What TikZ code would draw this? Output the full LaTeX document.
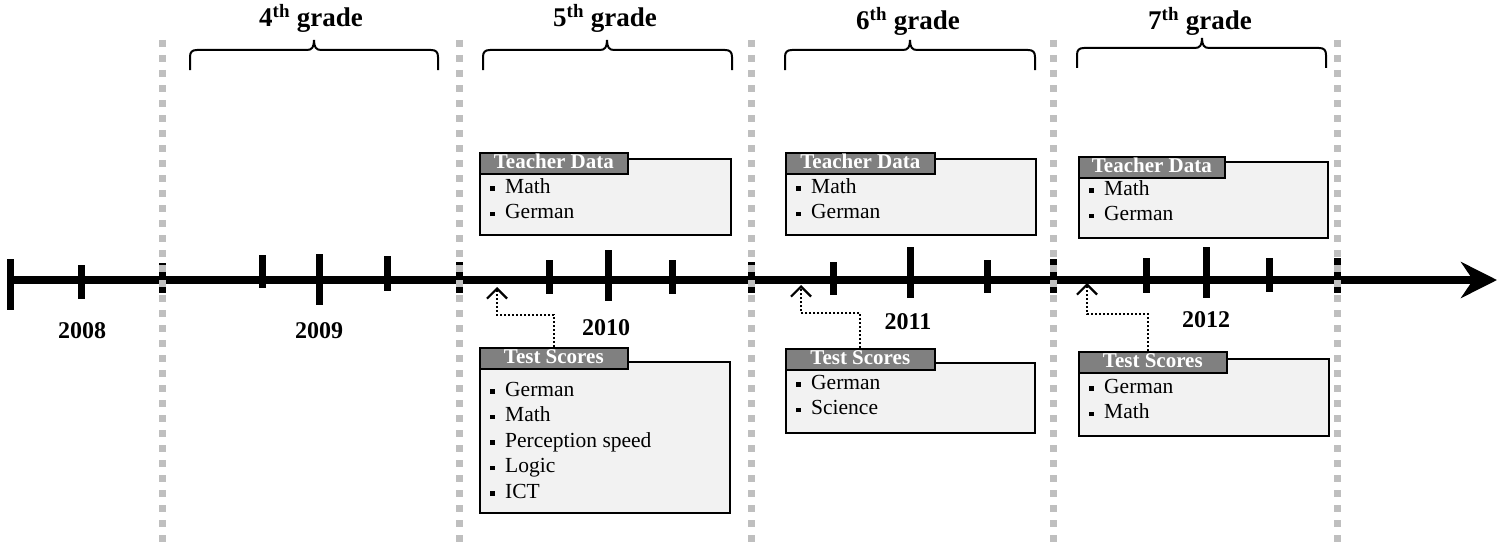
\documentclass[tikz,border=0pt]{standalone}
\usepackage{fontspec}
\setmainfont{Liberation Serif}
\usetikzlibrary{arrows.meta}
\definecolor{sepgray}{HTML}{BFBFBF}
\definecolor{tabgray}{HTML}{808080}
\definecolor{boxfill}{HTML}{F2F2F2}
\newcommand\sqb{\rule[2.5pt]{4.5pt}{4.5pt}\hspace{10.5pt}}
% #1 left x, #2 right x, #3 peak x, #4 y of horizontal part
\newcommand\gradebrace[4]{%
  \draw[brc] (#1,#4+20) -- (#1,#4+7) .. controls (#1,#4+2) and (#1+2,#4) .. (#1+7,#4)
    -- (#3-7,#4) .. controls (#3-2,#4) and (#3,#4-3) .. (#3,#4-10)
    .. controls (#3,#4-3) and (#3+2,#4) .. (#3+7,#4)
    -- (#2-7,#4) .. controls (#2-2,#4) and (#2,#4+2) .. (#2,#4+7) -- (#2,#4+20);}
\begin{document}
\begin{tikzpicture}[x=1pt,y=-1pt,
  sep/.style={draw=sepgray, line width=7pt, dash pattern=on 7pt off 8pt},
  tl/.style={line width=7.5pt},
  tk/.style={line width=7pt},
  box/.style={draw=black, fill=boxfill, line width=1.6pt, anchor=north west, inner sep=0pt},
  tab/.style={draw=black, fill=tabgray, line width=1.6pt, anchor=north west, inner sep=0pt,
    text=white, font=\fontsize{21}{23}\selectfont\bfseries, minimum height=21pt,
    text height=13.5pt, text depth=3.5pt},
  items/.style={anchor=base west, inner sep=0pt, font=\fontsize{21.5}{25.5}\selectfont},
  year/.style={anchor=base, inner sep=0pt, font=\fontsize{24}{26}\selectfont\bfseries},
  grade/.style={anchor=base, inner sep=0pt, font=\fontsize{27}{29}\selectfont\bfseries},
  brc/.style={line width=2pt},
  conn/.style={line width=2pt, dash pattern=on 2pt off 2pt,
    -{Straight Barb[length=10pt,width=20pt,line width=2.2pt]}}
]
\useasboundingbox (0,0) rectangle (1501,551);

% timeline
\draw[tl, -{Stealth[length=36pt,width=36pt,inset=12pt]}] (10,280) -- (1497,280);
\draw[tk] (10,259) -- (10,310);
\foreach \x/\a/\b in {81/265/299, 262/255/288, 319/254/305, 387/256/291,
                      549/260/294, 608/250/301, 672/260/294,
                      833/262/295, 910/247/298, 987/260/293,
                      1146/258/293, 1206/247/298, 1269/258/292,
                      162/263/293, 459/262/293, 751/262/293, 1053/259/293, 1337/258/293}
  \draw[tk] (\x,\a) -- (\x,\b);

% separators
\foreach \x in {162,459,751,1053,1337}
  \draw[sep] (\x,40) -- (\x,549);

% year labels
\node[year] (y2008) at (82,338) {2008};
\node[year] (y2009) at (319,338) {2009};
\node[year] (y2010) at (606,335) {2010};
\node[year] (y2011) at (908,329) {2011};
\node[year] (y2012) at (1206,327) {2012};

% grade labels and braces
\node[grade] (g4) at (311,27) {4\textsuperscript{th} grade};
\node[grade] (g5) at (605,27) {5\textsuperscript{th} grade};
\node[grade] (g6) at (908,30) {6\textsuperscript{th} grade};
\node[grade] (g7) at (1200,30) {7\textsuperscript{th} grade};
\gradebrace{190}{438}{314}{50}
\gradebrace{483}{732}{607}{50}
\gradebrace{785}{1035}{910}{50}
\gradebrace{1077}{1326}{1202}{48}

% 5th grade boxes
\node[box, minimum width=251pt, minimum height=76pt] (td1) at (479,158) {};
\node[tab, minimum width=148pt] (td1h) at (479,152) {Teacher Data};
\node[items] (td1i) at (490,193) {\begin{tabular}[t]{@{}l@{}}\sqb Math\\ \sqb German\end{tabular}};
\node[box, minimum width=250pt, minimum height=151pt] (ts1) at (479,361) {};
\node[tab, minimum width=148pt] (ts1h) at (479,347) {Test Scores};
\node[items] (ts1i) at (490,396) {\begin{tabular}[t]{@{}l@{}}\sqb German\\ \sqb Math\\ \sqb Perception speed\\ \sqb Logic\\ \sqb ICT\end{tabular}};
\coordinate (a1) at (497,287);
\draw[conn] (ts1h.north) -- ++(0,-32) -| (a1);

% 6th grade boxes
\node[box, minimum width=250pt, minimum height=76pt] (td2) at (785,158) {};
\node[tab, minimum width=149pt] (td2h) at (785,152) {Teacher Data};
\node[items] (td2i) at (796,193) {\begin{tabular}[t]{@{}l@{}}\sqb Math\\ \sqb German\end{tabular}};
\node[box, minimum width=249pt, minimum height=70pt] (ts2) at (785,362) {};
\node[tab, minimum width=149pt] (ts2h) at (785,348) {Test Scores};
\node[items] (ts2i) at (796,389) {\begin{tabular}[t]{@{}l@{}}\sqb German\\ \sqb Science\end{tabular}};
\coordinate (a2) at (801,285);
\draw[conn] (ts2h.north) -- ++(0,-35) -| (a2);

% 7th grade boxes
\node[box, minimum width=249pt, minimum height=76pt] (td3) at (1078,161) {};
\node[tab, minimum width=146pt] (td3h) at (1078,156) {Teacher Data};
\node[items] (td3i) at (1089,195) {\begin{tabular}[t]{@{}l@{}}\sqb Math\\ \sqb German\end{tabular}};
\node[box, minimum width=250pt, minimum height=77pt] (ts3) at (1078,358) {};
\node[tab, minimum width=148pt] (ts3h) at (1078,351) {Test Scores};
\node[items] (ts3i) at (1089,393) {\begin{tabular}[t]{@{}l@{}}\sqb German\\ \sqb Math\end{tabular}};
\coordinate (a3) at (1087,283);
\draw[conn] ([xshift=-5pt]ts3h.north) -- ++(0,-37) -| (a3);
\end{tikzpicture}
\end{document}
